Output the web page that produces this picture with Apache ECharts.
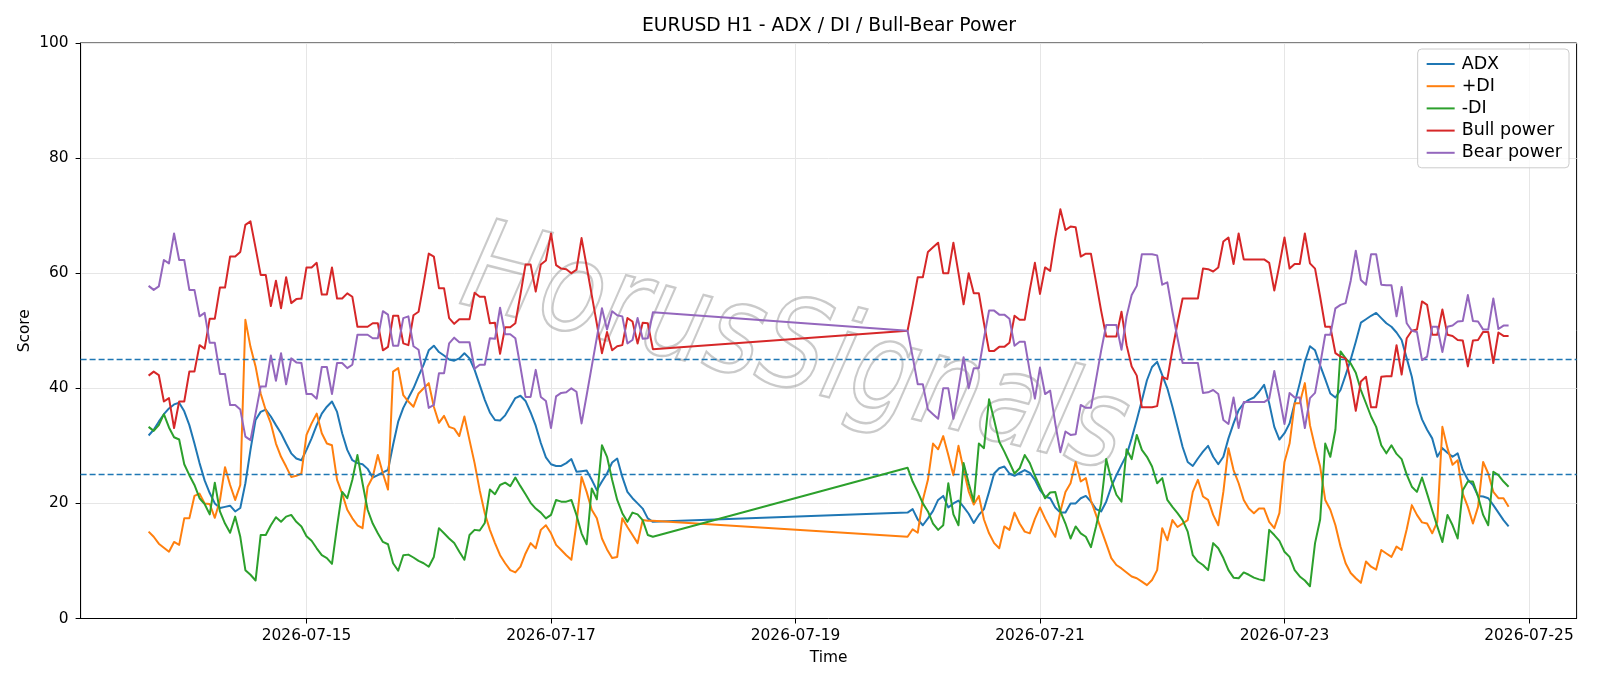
<!DOCTYPE html>
<html>
<head>
<meta charset="utf-8">
<title>EURUSD H1 - ADX / DI / Bull-Bear Power</title>
<script src="https://cdn.jsdelivr.net/npm/echarts@6/dist/echarts.min.js"></script>
<style>
  html, body { margin: 0; padding: 0; background: #fff; }
  #chart { width: 1600px; height: 686px; }
</style>
</head>
<body>
<div id="chart"></div>
<script>
// two trading sessions of hourly bars, the weekend sits between them
const HOUR = 3600 * 1000;
const firstSessionStart = Date.UTC(2026, 6, 13, 17);
const secondSessionStart = Date.UTC(2026, 6, 19, 22);
const firstSessionBars = 100;

const seriesNames = ["ADX", "+DI", "-DI", "Bull power", "Bear power"];
const colors = ["#1f77b4", "#ff7f0e", "#2ca02c", "#d62728", "#9467bd"];
const tickDates = ["2026-07-15", "2026-07-17", "2026-07-19", "2026-07-21", "2026-07-23", "2026-07-25"];
const levels = [45, 25];

const adx = [
  31.8, 32.8, 34.2, 35.5, 36.5, 37.2, 37.5, 36.0, 33.6, 30.4,
  27.0, 24.0, 21.8, 20.0, 19.2, 19.4, 19.6, 18.6, 19.2, 23.5,
  29.3, 34.5, 35.9, 36.3, 35.1, 33.6, 32.2, 30.4, 28.7, 27.8,
  27.5, 29.3, 31.3, 33.6, 35.6, 36.8, 37.7, 35.9, 32.2, 29.3,
  27.5, 27.0, 26.8, 26.0, 24.5, 24.9, 25.4, 25.8, 30.2, 34.2,
  36.6, 38.3, 40.0, 42.1, 44.1, 46.6, 47.4, 46.3, 45.7, 45.0,
  44.8, 45.2, 46.1, 45.2, 43.2, 40.6, 38.0, 35.8, 34.5, 34.4,
  35.3, 36.8, 38.3, 38.7, 37.8, 35.8, 33.5, 30.5, 28.0, 26.8,
  26.5, 26.5, 27.0, 27.7, 25.5, 25.6, 25.7, 24.1, 22.3, 23.8,
  25.2, 27.1, 27.8, 24.6, 22.0, 20.9, 20.0, 19.1, 17.4, 16.8,
  // after the weekend
  18.4, 19.0, 17.2, 16.2, 17.4, 18.7, 20.6, 21.3, 19.3, 20.0,
  20.5, 19.4, 18.2, 16.6, 18.0, 19.0, 22.0, 25.2, 26.1, 26.4,
  25.2, 24.8, 25.3, 25.8, 25.3, 24.1, 22.3, 21.2, 20.9, 19.3,
  18.4, 18.4, 20.0, 20.0, 20.9, 21.3, 20.3, 19.0, 18.6, 20.3,
  22.9, 24.9, 26.7, 28.4, 31.3, 34.5, 37.9, 41.4, 43.7, 44.6,
  42.3, 40.0, 36.8, 33.3, 29.8, 27.2, 26.5, 27.8, 29.0, 30.0,
  28.1, 26.8, 28.1, 31.3, 33.9, 36.2, 37.4, 38.0, 38.4, 39.4,
  40.6, 37.4, 33.3, 31.1, 32.2, 33.9, 37.4, 40.9, 44.6, 47.3,
  46.6, 44.0, 41.6, 39.1, 38.4, 39.7, 42.3, 45.0, 48.1, 51.4,
  52.0, 52.6, 53.1, 52.2, 51.3, 50.7, 49.7, 48.4, 45.2, 42.0,
  37.4, 34.6, 32.8, 31.3, 28.1, 29.6, 28.8, 28.1, 28.7, 25.8,
  24.1, 23.2, 21.3, 21.2, 20.9, 19.7, 18.4, 17.1, 16.0
];

const plusDi = [
  15.1, 14.2, 13.0, 12.3, 11.6, 13.3, 12.8, 17.4, 17.4, 21.3,
  21.7, 20.0, 19.9, 17.5, 20.5, 26.3, 23.2, 20.6, 23.2, 51.9,
  47.2, 43.8, 39.1, 36.2, 33.9, 30.4, 28.1, 26.4, 24.6, 24.8,
  25.2, 31.9, 33.9, 35.6, 32.2, 30.4, 30.1, 24.1, 21.7, 18.9,
  17.4, 16.2, 15.7, 22.9, 24.6, 28.4, 25.2, 22.4, 42.9, 43.5,
  38.8, 37.7, 36.8, 39.1, 40.0, 40.9, 36.8, 34.0, 35.2, 33.3,
  33.0, 31.7, 35.1, 31.0, 27.0, 22.3, 18.3, 15.4, 13.1, 11.0,
  9.6, 8.4, 8.0, 9.0, 11.3, 13.1, 12.2, 15.4, 16.2, 14.8,
  12.8, 11.9, 11.0, 10.2, 16.5, 24.6, 22.0, 18.9, 17.4, 13.9,
  12.0, 10.5, 10.7, 17.4, 15.9, 14.5, 13.1, 17.1, 17.0, 17.0,
  // after the weekend
  14.2, 15.5, 14.9, 20.6, 24.1, 30.4, 29.4, 31.7, 28.4, 24.9,
  30.0, 25.9, 22.1, 19.8, 21.3, 17.2, 14.8, 13.1, 12.2, 16.0,
  15.4, 18.4, 16.5, 15.1, 14.8, 17.3, 19.3, 17.4, 15.7, 14.2,
  18.6, 22.0, 23.5, 27.2, 23.8, 24.4, 20.5, 18.0, 15.5, 13.0,
  10.5, 9.3, 8.7, 8.0, 7.3, 7.0, 6.4, 5.8, 6.7, 8.4,
  15.7, 13.6, 17.1, 15.9, 16.5, 17.1, 22.0, 24.1, 21.2, 20.6,
  18.0, 16.2, 22.0, 29.6, 25.8, 23.5, 20.6, 19.1, 18.3, 19.1,
  19.1, 16.8, 15.7, 18.3, 27.2, 30.4, 37.4, 37.4, 40.9, 33.6,
  29.8, 26.4, 20.6, 18.9, 16.2, 12.5, 9.6, 7.9, 7.0, 6.2,
  9.9, 9.0, 8.5, 11.9, 11.3, 10.7, 12.5, 11.9, 15.5, 19.7,
  18.0, 16.7, 16.5, 14.8, 16.8, 33.3, 29.6, 26.7, 27.5, 21.7,
  19.4, 16.5, 19.4, 27.2, 25.2, 22.0, 20.9, 20.9, 19.4
];

const minusDi = [
  33.3, 32.6, 33.6, 35.5, 33.2, 31.5, 31.1, 26.8, 24.9, 23.2,
  20.9, 19.9, 18.1, 23.6, 18.6, 16.5, 14.9, 17.7, 14.2, 8.4,
  7.6, 6.6, 14.5, 14.5, 16.2, 17.6, 16.8, 17.7, 18.0, 16.8,
  16.0, 14.3, 13.5, 12.2, 11.0, 10.5, 9.5, 16.0, 22.0, 20.9,
  24.1, 28.4, 23.5, 18.9, 16.5, 14.8, 13.3, 12.9, 9.6, 8.3,
  11.0, 11.1, 10.6, 10.0, 9.6, 9.0, 10.7, 15.7, 14.8, 13.9,
  13.1, 11.6, 10.2, 14.5, 15.4, 15.3, 16.6, 22.4, 21.6, 23.2,
  23.6, 23.0, 24.5, 23.0, 21.6, 20.1, 19.1, 18.4, 17.4, 18.0,
  20.6, 20.3, 20.3, 20.6, 18.0, 14.8, 12.9, 22.6, 20.7, 30.1,
  28.1, 24.1, 20.6, 18.3, 16.8, 18.4, 18.1, 17.1, 14.5, 14.2,
  // after the weekend
  26.2, 23.8, 22.0, 20.0, 18.6, 16.5, 15.4, 16.2, 23.5, 18.1,
  16.2, 27.0, 23.5, 20.3, 30.4, 29.6, 38.1, 34.5, 30.7, 29.0,
  27.1, 25.2, 26.1, 28.4, 27.0, 24.8, 22.9, 20.9, 21.9, 22.0,
  18.6, 16.5, 13.9, 16.0, 14.8, 14.2, 12.4, 16.0, 20.0, 27.7,
  24.1, 21.5, 20.3, 29.4, 27.7, 31.9, 29.3, 28.1, 26.4, 23.5,
  24.4, 20.6, 19.4, 18.3, 17.1, 15.1, 11.0, 9.9, 9.3, 8.4,
  13.1, 12.2, 10.5, 8.4, 7.1, 7.0, 8.0, 7.6, 7.1, 6.8,
  6.6, 15.4, 14.5, 13.5, 11.6, 10.7, 8.4, 7.3, 6.6, 5.6,
  13.1, 17.2, 30.4, 28.1, 32.8, 46.4, 45.2, 44.3, 42.7, 39.7,
  37.4, 35.1, 33.3, 30.1, 28.7, 30.1, 28.6, 27.7, 25.0, 22.9,
  22.0, 24.5, 21.7, 18.8, 16.0, 13.3, 18.0, 16.2, 13.9, 22.3,
  23.8, 23.8, 21.2, 18.0, 16.2, 25.5, 24.9, 23.8, 22.9
];

const bullPower = [
  42.2, 42.9, 42.3, 37.7, 38.3, 33.1, 37.7, 37.7, 42.9, 42.9,
  47.5, 46.9, 52.1, 52.1, 57.5, 57.5, 62.9, 62.9, 63.7, 68.4,
  69.0, 64.4, 59.7, 59.7, 54.3, 58.7, 53.9, 59.3, 54.8, 55.5,
  55.6, 61.0, 61.0, 61.8, 56.3, 56.3, 61.0, 55.6, 55.6, 56.5,
  55.9, 50.7, 50.7, 50.7, 51.3, 51.3, 46.6, 47.2, 52.6, 52.6,
  47.8, 47.5, 52.7, 53.3, 58.2, 63.4, 62.9, 57.4, 57.4, 52.2,
  51.2, 52.0, 52.0, 52.0, 56.6, 55.9, 55.9, 51.3, 51.4, 46.0,
  50.6, 50.6, 51.3, 56.3, 61.5, 61.5, 56.8, 61.5, 62.2, 66.9,
  61.4, 60.8, 60.7, 60.0, 60.6, 66.1, 61.2, 56.2, 51.2, 46.1,
  49.8, 46.6, 47.3, 47.5, 52.2, 51.6, 47.8, 51.4, 51.3, 46.8,
  // after the weekend
  50.0, 54.5, 59.3, 59.3, 63.7, 64.5, 65.3, 60.0, 60.0, 65.3,
  60.0, 54.6, 60.0, 56.5, 56.5, 51.3, 46.5, 46.5, 47.2, 47.2,
  47.9, 52.6, 51.9, 51.9, 57.1, 61.8, 56.4, 61.0, 60.4, 66.1,
  71.1, 67.5, 68.1, 68.0, 62.9, 63.4, 63.4, 58.5, 53.5, 49.0,
  49.0, 49.0, 53.3, 47.5, 43.8, 42.2, 36.7, 36.7, 36.7, 36.9,
  42.0, 41.6, 46.7, 51.3, 55.6, 55.6, 55.6, 55.6, 60.8, 60.7,
  60.3, 61.0, 65.5, 66.2, 61.6, 66.9, 62.4, 62.4, 62.4, 62.4,
  62.4, 61.8, 57.0, 61.4, 66.2, 60.8, 61.6, 61.6, 66.9, 61.7,
  60.8, 55.9, 50.7, 50.7, 46.1, 45.5, 45.2, 41.3, 36.1, 41.2,
  42.0, 36.7, 36.7, 42.0, 42.1, 42.1, 47.5, 42.4, 48.7, 50.0,
  50.2, 55.1, 54.5, 49.3, 49.3, 53.7, 49.3, 49.1, 48.4, 48.3,
  43.8, 48.3, 48.4, 49.8, 49.8, 44.4, 49.7, 49.1, 49.1
];

const bearPower = [
  57.8, 57.1, 57.7, 62.3, 61.7, 66.9, 62.3, 62.3, 57.1, 57.1,
  52.5, 53.1, 47.9, 47.9, 42.5, 42.5, 37.1, 37.1, 36.3, 31.6,
  31.0, 35.6, 40.3, 40.3, 45.7, 41.3, 46.1, 40.7, 45.2, 44.5,
  44.4, 39.0, 39.0, 38.2, 43.7, 43.7, 39.0, 44.4, 44.4, 43.5,
  44.1, 49.3, 49.3, 49.3, 48.7, 48.7, 53.4, 52.8, 47.4, 47.4,
  52.2, 52.5, 47.3, 46.7, 41.8, 36.6, 37.1, 42.6, 42.6, 47.8,
  48.8, 48.0, 48.0, 48.0, 43.4, 44.1, 44.1, 48.7, 48.6, 54.0,
  49.4, 49.4, 48.7, 43.7, 38.5, 38.5, 43.2, 38.5, 37.8, 33.1,
  38.6, 39.2, 39.3, 40.0, 39.4, 33.9, 38.8, 43.8, 48.8, 53.9,
  50.2, 53.4, 52.7, 52.5, 47.8, 48.4, 52.2, 48.6, 48.7, 53.2,
  // after the weekend
  50.0, 45.5, 40.7, 40.7, 36.3, 35.5, 34.7, 40.0, 40.0, 34.7,
  40.0, 45.4, 40.0, 43.5, 43.5, 48.7, 53.5, 53.5, 52.8, 52.8,
  52.1, 47.4, 48.1, 48.1, 42.9, 38.2, 43.6, 39.0, 39.6, 33.9,
  28.9, 32.5, 31.9, 32.0, 37.1, 36.6, 36.6, 41.5, 46.5, 51.0,
  51.0, 51.0, 46.7, 52.5, 56.2, 57.8, 63.3, 63.3, 63.3, 63.1,
  58.0, 58.4, 53.3, 48.7, 44.4, 44.4, 44.4, 44.4, 39.2, 39.3,
  39.7, 39.0, 34.5, 33.8, 38.4, 33.1, 37.6, 37.6, 37.6, 37.6,
  37.6, 38.2, 43.0, 38.6, 33.8, 39.2, 38.4, 38.4, 33.1, 38.3,
  39.2, 44.1, 49.3, 49.3, 53.9, 54.5, 54.8, 58.7, 63.9, 58.8,
  58.0, 63.3, 63.3, 58.0, 57.9, 57.9, 52.5, 57.6, 51.3, 50.0,
  49.8, 44.9, 45.5, 50.7, 50.7, 46.3, 50.7, 50.9, 51.6, 51.7,
  56.2, 51.7, 51.6, 50.2, 50.2, 55.6, 50.3, 50.9, 50.9
];

const barTime = (k) => k < firstSessionBars
  ? firstSessionStart + k * HOUR
  : secondSessionStart + (k - firstSessionBars) * HOUR;

const toDay = (s) => Date.UTC(+s.slice(0, 4), +s.slice(5, 7) - 1, +s.slice(8, 10));
const fmtDay = (v) => {
  const d = new Date(v);
  const mm = String(d.getUTCMonth() + 1).padStart(2, "0");
  const dd = String(d.getUTCDate()).padStart(2, "0");
  return `${d.getUTCFullYear()}-${mm}-${dd}`;
};

const allValues = [adx, plusDi, minusDi, bullPower, bearPower];
const font = "DejaVu Sans";
const tickFont = 15.4;

const chart = echarts.init(document.getElementById("chart"));

const option = {
  animation: false,
  backgroundColor: "#fff",
  textStyle: { fontFamily: font },
  title: {
    text: "EURUSD H1 - ADX / DI / Bull-Bear Power",
    left: 824,
    top: 12,
    textAlign: "center",
    textStyle: { fontFamily: font, fontSize: 18.8, fontWeight: "normal", color: "#000" },
  },
  grid: {
    left: 80.6,
    right: 23.4,
    top: 43,
    bottom: 67.5,
    show: true,
    borderColor: "#000",
    borderWidth: 1,
    backgroundColor: "transparent",
  },
  legend: {
    data: seriesNames,
    orient: "vertical",
    right: 31,
    top: 49,
    padding: [6, 7, 6, 9],
    itemGap: 4.2,
    itemWidth: 28,
    itemHeight: 2,
    icon: "rect",
    backgroundColor: "rgba(255,255,255,0.8)",
    borderColor: "#cccccc",
    borderWidth: 1,
    borderRadius: 4,
    textStyle: { fontFamily: font, fontSize: 17.5, color: "#000", padding: [0, 0, 0, 2] },
  },
  xAxis: {
    type: "value",
    min: Date.UTC(2026, 6, 13, 3, 39),
    max: Date.UTC(2026, 6, 25, 9, 21),
    name: "Time",
    nameLocation: "middle",
    nameGap: 32,
    nameMoveOverlap: false,
    nameTextStyle: { fontFamily: font, fontSize: tickFont, color: "#000" },
    axisLine: { show: true, onZero: false, lineStyle: { color: "#000", width: 1 } },
    axisTick: { show: true, length: 5, lineStyle: { color: "#000" }, customValues: tickDates.map(toDay) },
    axisLabel: {
      customValues: tickDates.map(toDay),
      formatter: fmtDay,
      margin: 9.5,
      fontFamily: font,
      fontSize: tickFont,
      color: "#000",
    },
    splitLine: { show: true, lineStyle: { color: "#e6e6e6", width: 1 } },
  },
  yAxis: {
    type: "value",
    min: 0,
    max: 100,
    interval: 20,
    name: "Score",
    nameLocation: "middle",
    nameGap: 48,
    nameMoveOverlap: false,
    nameTextStyle: { fontFamily: font, fontSize: tickFont, color: "#000" },
    axisLine: { show: true, lineStyle: { color: "#000", width: 1 } },
    axisTick: { show: true, length: 5, lineStyle: { color: "#000" } },
    axisLabel: { margin: 12, fontFamily: font, fontSize: tickFont, color: "#000" },
    splitLine: { show: true, lineStyle: { color: "#e6e6e6", width: 1 } },
  },
  graphic: [
    {
      type: "text",
      z: 1,
      x: 794,
      y: 355,
      rotation: -0.25,
      scaleX: 1.0,
      scaleY: 1.2,
      style: {
        text: "HorusSignals",
        font: "italic 104px 'DejaVu Sans'",
        align: "center",
        verticalAlign: "middle",
        fill: "rgba(255,255,255,0)",
        stroke: "rgba(150,150,150,0.5)",
        lineWidth: 2,
      },
    },
  ],
  series: seriesNames.map((name, s) => ({
    name,
    type: "line",
    showSymbol: false,
    symbol: "none",
    z: 3 + s,
    lineStyle: { color: colors[s], width: 2, join: "round" },
    itemStyle: { color: colors[s] },
    data: allValues[s].map((v, k) => [barTime(k), v]),
    markLine: s === 0 ? {
      silent: true,
      symbol: "none",
      label: { show: false },
      lineStyle: { color: colors[0], type: [6, 3], width: 1.3 },
      data: levels.map((v) => ({ yAxis: v })),
    } : undefined,
  })),
};

chart.setOption(option);
</script>
</body>
</html>
